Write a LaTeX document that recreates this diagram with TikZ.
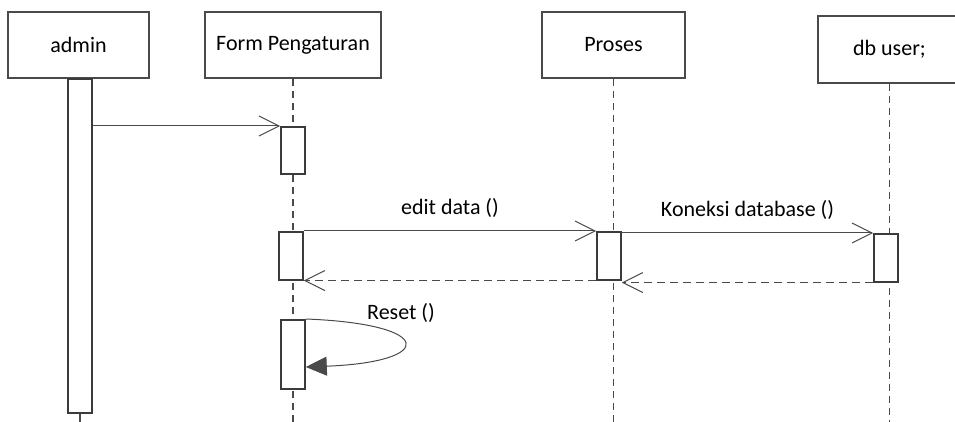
\documentclass[tikz,border=0pt]{standalone}
\usepackage{fontspec}
\setmainfont{Carlito}
\usepackage{xcolor}
\usetikzlibrary{arrows.meta}
\definecolor{umlgray}{HTML}{4A4A4A}

\begin{document}
\begin{tikzpicture}[
    x=0.5pt, y=-0.5pt,
    font=\fontsize{11}{13}\selectfont,
    head/.style={draw=umlgray, line width=0.8pt, minimum height=33pt, inner sep=0pt},
    act/.style={draw=umlgray!80!black, line width=0.8pt, fill=white, minimum width=12pt, inner sep=0pt, anchor=north},
    lifeline/.style={draw=umlgray, line width=0.7pt, dash pattern=on 3.5pt off 2.5pt},
    call/.style={draw=umlgray, line width=0.5pt, -{Straight Barb[length=10pt,width=10pt]}},
    reply/.style={call, dash pattern=on 4pt off 2.5pt},
    self call/.style={draw=umlgray, line width=0.5pt, -{Triangle[length=10.5pt,width=9.5pt,fill=umlgray]}}
    ]
\clip (0,0) rectangle (955,422);
\coordinate (bottom) at (0,422);

% heads
\node[head, minimum width=70.5pt] (admin) at (78.5,45) {admin};
\node[head, minimum width=88pt] (form) at (293,45) {Form Pengaturan};
\node[head, minimum width=71.5pt] (proses) at (613.5,45) {Proses};
\node[head, minimum width=71.5pt, minimum height=33.5pt] (db) at (889.5,49.5) {db user;};

% lifelines
\draw[lifeline] (form.south) -- (form.south |- bottom);
\draw[lifeline] (proses.south) -- (proses.south |- bottom);
\draw[lifeline] (db.south) -- (db.south |- bottom);

% activations
\node[act, minimum height=167pt] (a0) at (80,78) {};
\draw[umlgray, line width=0.7pt] (a0.south) -- (a0.south |- bottom);
\node[act, minimum height=23.5pt] (f1) at (293,126) {};
\node[act, minimum height=24pt] (f2) at (291,231) {};
\node[act, minimum height=34.5pt] (f3) at (293,319) {};
\node[act, minimum height=24pt] (p1) at (609,231) {};
\node[act, minimum height=24pt] (d1) at (886,233) {};

% messages
\path (a0.east |- f1.north west) edge[call] (f1.north west);
\path (f2.north east) edge[call] node[above=3pt] {edit data ()} (p1.north west);
\path (d1.north west -| p1.east) edge[call] node[above=3pt] {Koneksi database ()} (d1.north west);
\path (d1.south west) edge[reply] (d1.south west -| p1.east);
\path (p1.south west) edge[reply] (p1.south west -| f2.east);
\draw[self call] (f3.north east) .. controls (436,324) and (436,362) .. ([yshift=-24pt]f3.north east);
\node (reset) at (401,313) {Reset ()};
\end{tikzpicture}
\end{document}
